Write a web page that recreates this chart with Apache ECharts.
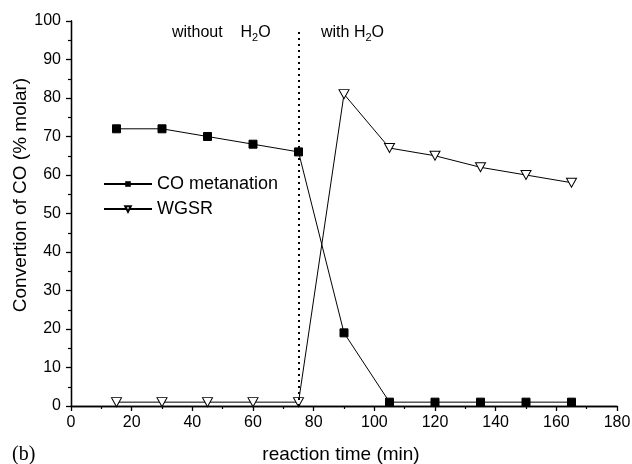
<!DOCTYPE html>
<html>
<head>
<meta charset="utf-8">
<script src="https://cdn.jsdelivr.net/npm/echarts@6/dist/echarts.min.js"></script>
<style>
  html, body { margin: 0; padding: 0; background: #fff; }
  #main { width: 632px; height: 464px; }
</style>
</head>
<body>
<div id="main"></div>
<script>
// reaction time (min)
var times = [15, 30, 45, 60, 75, 90, 105, 120, 135, 150, 165];
// conversion of CO (% molar)
var coMetanation = [72, 72, 70, 68, 66, 19, 1, 1, 1, 1, 1];
var wgsr = [1, 1, 1, 1, 1, 81, 67, 65, 62, 60, 58];
// water switched on here
var switchTime = 75;

var FONT = 'Liberation Sans, Arial, sans-serif';
var downTri = 'path://M0,0 L10,0 L5,9 Z';

function pairs(xs, ys) {
  var out = [];
  for (var i = 0; i < xs.length; i++) out.push([xs[i], ys[i]]);
  return out;
}

var chart = echarts.init(document.getElementById('main'));

var axisCommon = {
  axisLine: { show: true, lineStyle: { color: '#000', width: 1.3 } },
  axisTick: { show: true, inside: false, length: 5, lineStyle: { color: '#000', width: 1.3 } },
  minorTick: { show: true, splitNumber: 2, length: 3, lineStyle: { color: '#000', width: 1.2 } },
  splitLine: { show: false }
};

var subRich = {
  n: { fontSize: 16, fontFamily: FONT, fill: '#000' },
  s: { fontSize: 11, fontFamily: FONT, fill: '#000', padding: [9, 0, 0, 0] }
};

var option = {
  backgroundColor: '#fff',
  animation: false,
  grid: { left: 71, top: 21, right: 15, bottom: 58, containLabel: false, outerBoundsMode: 'none' },
  legend: {
    orient: 'vertical',
    left: 98,
    top: 170,
    itemWidth: 48,
    itemHeight: 7,
    itemGap: 7,
    textStyle: { color: '#000', fontSize: 18, fontFamily: FONT },
    data: ['CO metanation', 'WGSR']
  },
  xAxis: [Object.assign({}, axisCommon, {
    type: 'value', min: 0, max: 180, interval: 20,
    name: 'reaction time (min)', nameLocation: 'middle', nameGap: 39,
    nameTextStyle: { color: '#000', fontSize: 19, fontFamily: FONT, padding: [0, 6, 0, 0] },
    axisLabel: { color: '#000', fontSize: 16, fontFamily: FONT, margin: 9 }
  }), {
    type: 'value', min: 0, max: 180, position: 'top',
    axisLine: { show: true, lineStyle: { color: '#000', width: 1.3 } },
    axisTick: { show: false }, axisLabel: { show: false }, splitLine: { show: false }
  }],
  yAxis: [Object.assign({}, axisCommon, {
    type: 'value', min: 0, max: 100, interval: 10,
    axisLabel: { color: '#000', fontSize: 16, fontFamily: FONT, margin: 10 }
  }), {
    type: 'value', min: 0, max: 100, position: 'right',
    axisLine: { show: true, lineStyle: { color: '#000', width: 1.3 } },
    axisTick: { show: false }, axisLabel: { show: false }, splitLine: { show: false }
  }],
  series: [
    {
      name: 'CO metanation',
      type: 'line',
      data: pairs(times, coMetanation),
      symbol: 'rect',
      symbolSize: 8,
      showAllSymbol: true,
      lineStyle: { color: '#000', width: 1 },
      itemStyle: { color: '#000', borderColor: '#000' },
      z: 3,
      markLine: {
        silent: true,
        symbol: ['none', 'none'],
        label: { show: false },
        lineStyle: { color: '#000', type: [2, 4], width: 2 },
        data: [[{ coord: [switchTime, 0] }, { coord: [switchTime, 97.5] }]]
      }
    },
    {
      name: 'WGSR',
      type: 'line',
      data: pairs(times, wgsr),
      symbol: downTri,
      symbolSize: [10, 9],
      showAllSymbol: true,
      lineStyle: { color: '#000', width: 1 },
      itemStyle: { color: '#fff', borderColor: '#000', borderWidth: 1 },
      z: 4
    }
  ],
  graphic: [
    {
      type: 'text', left: 172, top: 25,
      style: { text: '{n|without    H}{s|2}{n|O}', rich: subRich }
    },
    {
      type: 'text', left: 321, top: 25,
      style: { text: '{n|with H}{s|2}{n|O}', rich: subRich }
    },
    {
      type: 'text', x: 21, y: 195, rotation: Math.PI / 2,
      style: {
        text: 'Convertion of CO (% molar)', fontSize: 19, fontFamily: FONT, fill: '#000',
        align: 'center', verticalAlign: 'middle'
      }
    },
    {
      type: 'text', x: 12, y: 455,
      style: {
        text: '(b)', fontSize: 20, fontFamily: 'Liberation Serif, Times New Roman, serif', fill: '#000',
        verticalAlign: 'middle'
      }
    }
  ]
};

chart.setOption(option);
</script>
</body>
</html>
